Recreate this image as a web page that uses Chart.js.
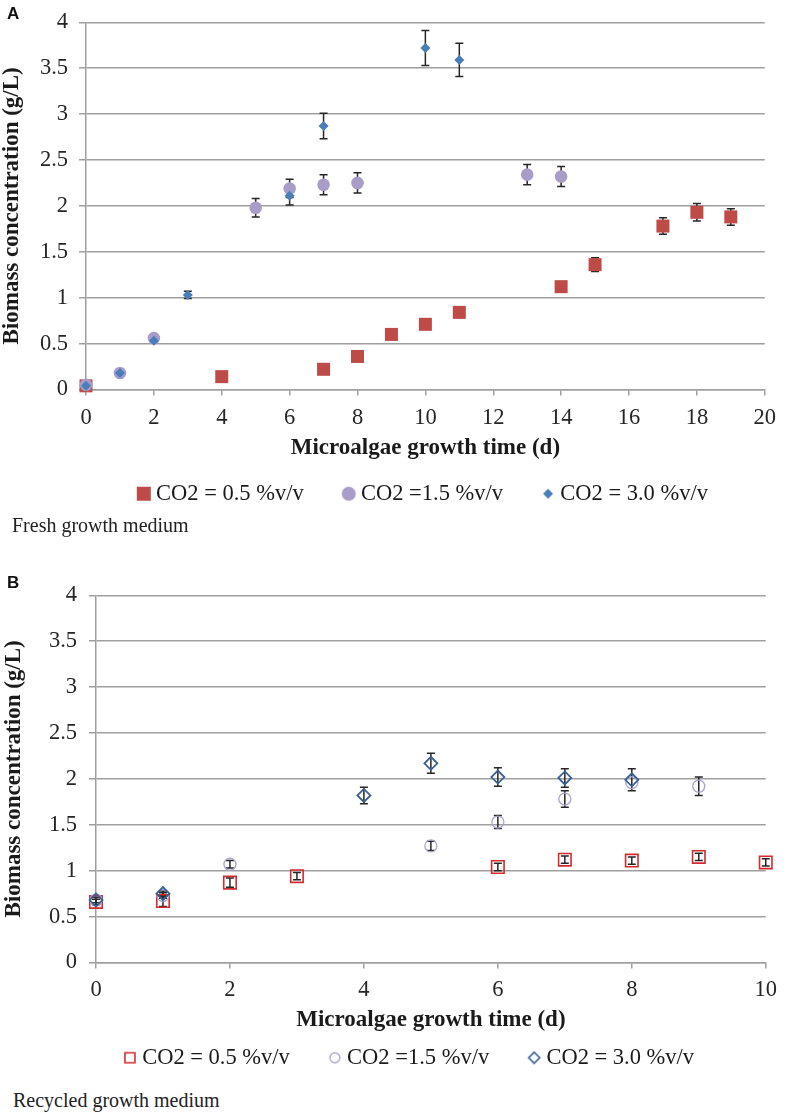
<!DOCTYPE html>
<html><head><meta charset="utf-8">
<script src="https://cdn.jsdelivr.net/npm/chart.js@4.4.1/dist/chart.umd.min.js"></script>
<style>
html,body{margin:0;padding:0;background:#fff;}
#page{position:relative;width:787px;height:1113px;overflow:hidden;background:#fff;}
canvas{position:absolute;left:0;}
.lbl{position:absolute;font-family:"Liberation Sans",Arial,sans-serif;font-weight:bold;font-size:17px;color:#111;line-height:1;}
.cap{position:absolute;font-family:"Liberation Serif","Times New Roman",serif;font-size:20px;color:#222;line-height:1;white-space:nowrap;}
</style></head><body>
<div id="page">
<canvas id="cA" width="787" height="515" style="top:0px"></canvas>
<canvas id="cB" width="787" height="507" style="top:572px"></canvas>
<div class="lbl" style="left:7px;top:5px">A</div>
<div class="lbl" style="left:7px;top:574px">B</div>
<div class="cap" style="left:12px;top:515px">Fresh growth medium</div>
<div class="cap" style="left:13px;top:1090px">Recycled growth medium</div>
</div>
<script>
// ---------- data ----------
const seriesNames = ['CO2 = 0.5 %v/v', 'CO2 =1.5 %v/v', 'CO2 = 3.0 %v/v'];
const yTickLabels = ['0', '0.5', '1', '1.5', '2', '2.5', '3', '3.5', '4'];
const xTickLabelsA = ['0', '2', '4', '6', '8', '10', '12', '14', '16', '18', '20'];
const xTickLabelsB = ['0', '2', '4', '6', '8', '10'];

// Panel A: fresh growth medium
const dayA05 = [0, 4, 7, 8, 9, 10, 11, 14, 15, 17, 18, 19];
const valA05 = [0.04, 0.14, 0.22, 0.36, 0.60, 0.71, 0.84, 1.12, 1.36, 1.78, 1.93, 1.88];
const errA05 = [0, 0, 0, 0, 0, 0, 0, 0, 0.075, 0.09, 0.095, 0.09];
const dayA15 = [0, 1, 2, 5, 6, 7, 8, 13, 14];
const valA15 = [0.05, 0.18, 0.56, 1.98, 2.19, 2.23, 2.25, 2.34, 2.32];
const errA15 = [0, 0, 0, 0.1, 0.1, 0.11, 0.11, 0.11, 0.11];
const dayA30 = [0, 1, 2, 3, 6, 7, 10, 11];
const valA30 = [0.04, 0.18, 0.53, 1.03, 2.11, 2.87, 3.72, 3.59];
const errA30 = [0, 0, 0, 0.04, 0.1, 0.14, 0.19, 0.18];

// Panel B: recycled growth medium
const dayB05 = [0, 1, 2, 3, 6, 7, 8, 9, 10];
const valB05 = [0.66, 0.67, 0.87, 0.94, 1.04, 1.12, 1.11, 1.15, 1.09];
const errB05 = [0.03, 0.06, 0.05, 0.04, 0.04, 0.04, 0.04, 0.04, 0.04];
const dayB15 = [0, 1, 2, 5, 6, 7, 8, 9];
const valB15 = [0.68, 0.73, 1.07, 1.27, 1.53, 1.78, 1.96, 1.92];
const errB15 = [0, 0.03, 0.04, 0.05, 0.07, 0.09, 0, 0.1];
const dayB30 = [0, 1, 4, 5, 6, 7, 8];
const valB30 = [0.68, 0.75, 1.82, 2.17, 2.02, 2.01, 1.99];
const errB30 = [0.03, 0.03, 0.09, 0.11, 0.1, 0.1, 0.12];

// ---------- styling ----------
const SERIF = '"Liberation Serif", "Times New Roman", serif';
const GRID = '#9f9f9f';
const RED_A = '#be4b48', PUR_A = '#a89cc8', BLU_A = '#4a7ebb';
const RED_B = '#d42a2e', PUR_B = '#aaa6cc', BLU_B = '#3b5f95';

function pts(xs, ys) { return xs.map((x, i) => ({x: x, y: ys[i]})); }

function marker(shape, size, fill, stroke, lw) {
  const pad = 2, c = document.createElement('canvas');
  c.width = c.height = Math.ceil(size + pad * 2);
  const g = c.getContext('2d'), m = c.width / 2, h = size / 2;
  g.beginPath();
  if (shape === 'square') g.rect(m - h, m - h, size, size);
  else if (shape === 'circle') g.arc(m, m, h, 0, Math.PI * 2);
  else { g.moveTo(m, m - h); g.lineTo(m + h, m); g.lineTo(m, m + h); g.lineTo(m - h, m); g.closePath(); }
  if (fill) { g.fillStyle = fill; g.fill(); }
  if (stroke) { g.strokeStyle = stroke; g.lineWidth = lw; g.stroke(); }
  return c;
}

const errorBarPlugin = {
  id: 'errorBars',
  beforeDatasetsDraw(chart) {
    const {ctx} = chart, xs = chart.scales.x, ys = chart.scales.y;
    ctx.save();
    ctx.strokeStyle = '#262626';
    ctx.lineWidth = 1.5;
    chart.data.datasets.forEach((ds, di) => {
      if (!chart.isDatasetVisible(di)) return;
      (ds.errors || []).forEach((e, i) => {
        if (!e) return;
        const p = ds.data[i];
        const px = xs.getPixelForValue(p.x);
        const y1 = ys.getPixelForValue(p.y + e), y2 = ys.getPixelForValue(p.y - e);
        ctx.beginPath();
        ctx.moveTo(px, y1); ctx.lineTo(px, y2);
        ctx.moveTo(px - 4, y1); ctx.lineTo(px + 4, y1);
        ctx.moveTo(px - 4, y2); ctx.lineTo(px + 4, y2);
        ctx.stroke();
      });
    });
    ctx.restore();
  }
};

function build(id, cfg) {
  return new Chart(document.getElementById(id), {
    type: 'scatter',
    data: {datasets: cfg.datasets},
    options: {
      responsive: false,
      animation: false,
      events: [],
      layout: {padding: {left: cfg.pl, right: cfg.pr, top: 11, bottom: 0}},
      scales: {
        x: {
          type: 'linear', min: 0, max: cfg.xmax,
          ticks: {stepSize: 2, autoSkip: false, maxRotation: 0, padding: cfg.xTickPad, color: '#262626',
                  font: {family: SERIF, size: 22.5, lineHeight: 1},
                  callback: (v, i) => cfg.xLabels[i]},
          grid: {drawOnChartArea: false, drawTicks: true, tickLength: 6, color: GRID, lineWidth: 1.5},
          border: {display: true, color: GRID, width: 1.5},
          title: {display: true, text: 'Microalgae growth time (d)', color: '#1a1a1a',
                  font: {family: SERIF, size: 23, weight: 'bold', lineHeight: 1.2},
                  padding: {top: 0, bottom: cfg.xTitlePb}},
          afterFit: (s) => { s.height = cfg.xHeight; }
        },
        y: {
          type: 'linear', min: 0, max: 4,
          ticks: {stepSize: 0.5, padding: cfg.yTickPad, color: '#262626',
                  font: {family: SERIF, size: 22.5, lineHeight: 1},
                  callback: (v, i) => yTickLabels[i]},
          grid: {drawTicks: true, tickLength: 7, color: GRID, lineWidth: 1.5},
          border: {display: true, color: GRID, width: 1.5},
          title: {display: true, text: 'Biomass concentration (g/L)', color: '#1a1a1a',
                  font: {family: SERIF, size: 23, weight: 'bold', lineHeight: 1.2},
                  padding: {top: cfg.yTitlePt, bottom: 0}},
          afterFit: (s) => { s.width = cfg.yWidth; }
        }
      },
      plugins: {
        tooltip: {enabled: false},
        legend: {
          display: true, position: 'bottom', fullSize: cfg.legendFull,
          labels: {
            usePointStyle: true, boxWidth: 2, boxHeight: 2, padding: 44, color: '#1a1a1a',
            font: {family: SERIF, size: 22.5},
            generateLabels: (chart) => {
              const items = Chart.defaults.plugins.legend.labels.generateLabels(chart);
              items.sort((a, b) => a.datasetIndex - b.datasetIndex);
              items.forEach((it) => { it.pointStyle = cfg.legendMarkers[it.datasetIndex]; it.rotation = 0; });
              return items;
            }
          }
        }
      }
    },
    plugins: [errorBarPlugin]
  });
}

build('cA', {
  xmax: 20, xLabels: xTickLabelsA, pl: 0, pr: 15, yWidth: 86, yTitlePt: -1.8, yTickPad: 11,
  xHeight: 49, xTitlePb: -23.3, xTickPad: 11, legendFull: false,
  legendMarkers: [marker('square', 14, RED_A), marker('circle', 14, PUR_A), marker('diamond', 10, BLU_A)],
  datasets: [
    {label: seriesNames[0], data: pts(dayA05, valA05), errors: errA05, order: 2, pointStyle: 'rect', pointRadius: 9.2,
     backgroundColor: RED_A, borderColor: RED_A, borderWidth: 0, showLine: false, clip: false},
    {label: seriesNames[1], data: pts(dayA15, valA15), errors: errA15, order: 1, pointStyle: 'circle', pointRadius: 6.3,
     backgroundColor: PUR_A, borderColor: PUR_A, borderWidth: 0, showLine: false, clip: false},
    {label: seriesNames[2], data: pts(dayA30, valA30), errors: errA30, order: 0, pointStyle: 'rectRot', pointRadius: 5,
     backgroundColor: BLU_A, borderColor: BLU_A, borderWidth: 0, showLine: false, clip: false}
  ]
});

build('cB', {
  xmax: 10, xLabels: xTickLabelsB, pl: 49, pr: 13, yWidth: 47, yTitlePt: -48.3, yTickPad: 12,
  xHeight: 40, xTitlePb: -31.3, xTickPad: 10, legendFull: true,
  legendMarkers: [marker('square', 10, null, RED_B, 1.6), marker('circle', 10, null, PUR_B, 1.3), marker('diamond', 11, null, BLU_B, 1.6)],
  datasets: [
    {label: seriesNames[0], data: pts(dayB05, valB05), errors: errB05, order: 2, pointStyle: 'rect', pointRadius: 8.8,
     backgroundColor: 'rgba(0,0,0,0)', borderColor: RED_B, borderWidth: 1.6, showLine: false, clip: false},
    {label: seriesNames[1], data: pts(dayB15, valB15), errors: errB15, order: 1, pointStyle: 'circle', pointRadius: 6,
     backgroundColor: 'rgba(0,0,0,0)', borderColor: PUR_B, borderWidth: 1.3, showLine: false, clip: false},
    {label: seriesNames[2], data: pts(dayB30, valB30), errors: errB30, order: 0, pointStyle: 'rectRot', pointRadius: 6.5,
     backgroundColor: 'rgba(0,0,0,0)', borderColor: BLU_B, borderWidth: 1.8, showLine: false, clip: false}
  ]
});
</script>
</body></html>
